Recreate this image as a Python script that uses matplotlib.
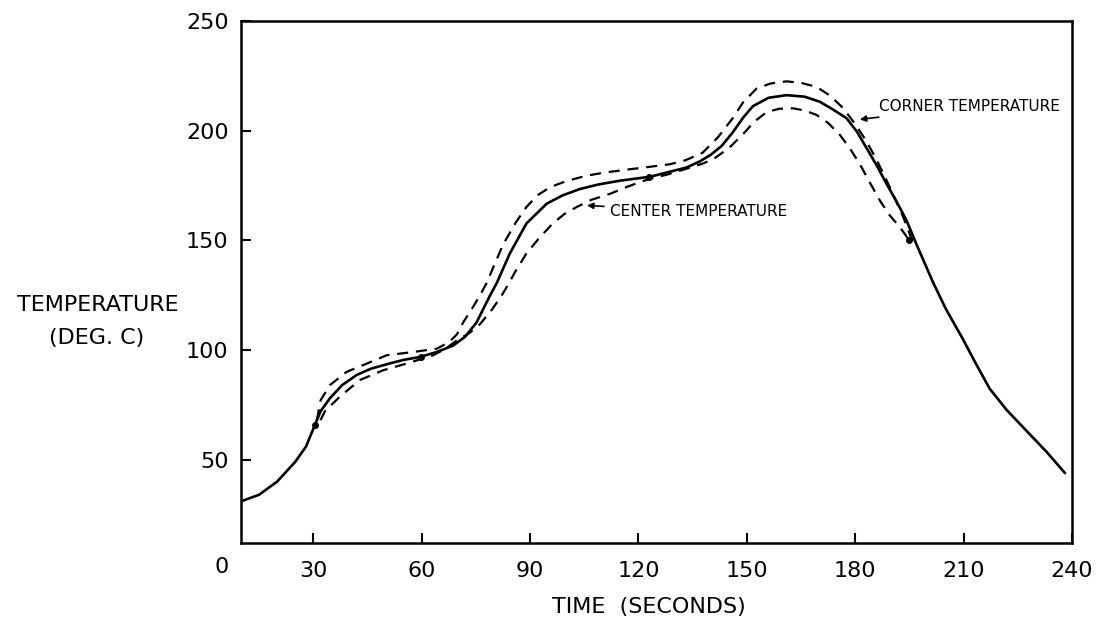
import matplotlib
matplotlib.use("Agg")
import matplotlib.pyplot as plt

# average temperature (solid line)
mean_time = [10, 15, 20, 25, 28, 30, 32, 34.6, 38, 42, 46, 51, 55, 59.5, 64, 68.7,
             72, 75.2, 78.9, 80.8, 84.4, 89, 94.6, 99, 103.8, 109, 114.9, 123.2, 128,
             133.3, 137, 140, 143, 146, 149, 151.7, 156, 161, 166, 170.2, 174, 177.6,
             180.5, 183.1, 186, 188.7, 191.5, 194.2, 197, 201.5, 205, 209.8, 213,
             217.2, 222, 227.5, 233, 238]
mean_temp = [31, 34, 40, 49, 56, 64, 72, 78, 84, 88.6, 91.5, 93.8, 95.5, 96.8, 99,
             102, 106, 112.6, 124.8, 130.6, 144, 157.7, 166.7, 170.5, 173.4, 175.5,
             177.2, 179, 181, 183.2, 186, 189, 193, 199, 206, 211.2, 215, 216.2,
             215.5, 213.2, 209.5, 205.7, 199.5, 192.2, 184, 175.7, 167.5, 159.1, 148,
             131, 119, 105, 95, 82.4, 72.5, 63, 53.5, 44]

# corner temperature (upper dashed)
corner_time = [31, 32, 34.6, 39.2, 44.8, 50.3, 57.7, 64.2, 67.5, 69.7, 71.5, 74,
               76.1, 78, 82.5, 86, 89, 92, 95.5, 100, 105.7, 111, 117.6, 123, 128.7,
               133, 137.8, 142, 146.1, 149, 152.7, 156.5, 161, 165, 169.3, 173, 176.6,
               180, 183.1, 186, 188.7, 191, 193.3, 196]
corner_temp = [68, 77, 84, 90, 93.8, 97.6, 99.1, 100.6, 103.5, 107, 112.6, 119, 124.8,
               130.6, 148, 158, 165.2, 170.5, 174.2, 177, 179.5, 181, 182.4, 183.5,
               184.7, 186.5, 190, 197, 205.7, 213, 219.2, 221.5, 222.5, 221.8, 220,
               216, 210.4, 203, 195.2, 186.5, 177.3, 169, 160.6, 149]

# center temperature (lower dashed)
center_time = [32, 33.2, 37.4, 42.9, 49.4, 55.8, 63.2, 66.5, 69.7, 73, 76, 79.5, 82.2,
               84, 86, 89, 92.5, 96.3, 99.5, 102.9, 107, 112.1, 117.5, 123, 128,
               133, 137.8, 140.7, 145, 149, 152, 155.5, 159, 162.8, 166, 169.3, 172.5,
               175.7, 178.5, 181.3, 184, 186.8, 189.5, 192.3, 195]
center_temp = [68, 72, 78.8, 86.3, 90.8, 93.8, 97.6, 100.5, 104.3, 107.5, 111.5, 118.5,
               125, 130, 136, 144, 151, 157.7, 162, 165.2, 168.5, 171.2, 174.8,
               178, 180, 182.5, 185, 187, 192, 198.5, 204, 208.5, 210, 210.2,
               209.2, 207.2, 203.5, 198.2, 192, 184.7, 176.5, 168.2, 161.5, 156.1, 150]

# small pen marks along the curves
mark_time = [30.5, 59.8, 123, 195]
mark_temp = [66, 96.6, 179, 150]

xticks = [30, 60, 90, 120, 150, 180, 210, 240]
yticks = [50, 100, 150, 200, 250]

plt.rcParams['font.family'] = ['DejaVu Sans']

fig = plt.figure(figsize=(10.97, 6.24), dpi=100)
ax = fig.add_axes([0.2197, 0.1298, 0.7575, 0.8365])

ax.plot(mean_time, mean_temp, color='black', lw=1.9, solid_joinstyle='round')
ax.plot(corner_time, corner_temp, color='black', lw=1.6, dashes=(5, 3.5))
ax.plot(center_time, center_temp, color='black', lw=1.6, dashes=(5, 3.5))
ax.plot(mark_time, mark_temp, 'o', color='black', ms=4)

ax.set_xlim(10, 240)
ax.set_ylim(12, 250)
ax.set_xticks(xticks)
ax.set_yticks(yticks)
ax.tick_params(direction='in', length=7, width=1.5, labelsize=16,
               top=False, right=False)
ax.tick_params(axis='x', pad=13)
ax.tick_params(axis='y', pad=9)
for s in ax.spines.values():
    s.set_linewidth(1.8)

# the zero label sits left of the axis start
fig.text(222 / 1097, 1 - 567 / 624, "0", fontsize=16, ha='center', va='center')

fig.text(98 / 1097, 1 - 305 / 624, "TEMPERATURE", fontsize=16, ha='center', va='center')
fig.text(97 / 1097, 1 - 338 / 624, "(DEG. C)", fontsize=16, ha='center', va='center')
fig.text(649 / 1097, 1 - 607 / 624, "TIME  (SECONDS)", fontsize=16, ha='center',
         va='center')

arrow = dict(arrowstyle='-|>', color='black', lw=1.2, mutation_scale=9)
ax.annotate("CENTER TEMPERATURE", xy=(105, 166), xytext=(112, 163),
            fontsize=11, va='center', ha='left', arrowprops=arrow)
ax.annotate("CORNER TEMPERATURE", xy=(180.5, 205), xytext=(186.5, 211),
            fontsize=11, va='center', ha='left', arrowprops=arrow)

fig.savefig("out.png", dpi=100)
